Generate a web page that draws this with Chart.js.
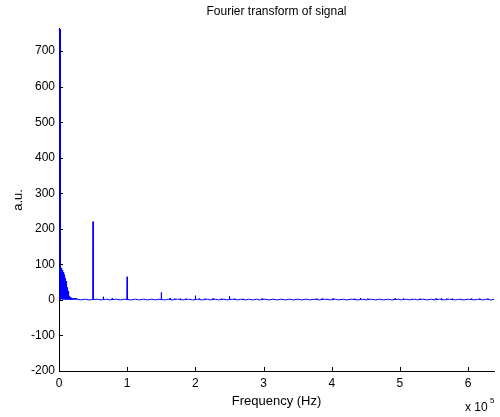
<!DOCTYPE html>
<html>
<head>
<meta charset="utf-8">
<script src="https://cdn.jsdelivr.net/npm/chart.js@4/dist/chart.umd.min.js"></script>
<style>
  html, body { margin: 0; padding: 0; background: #fff; }
  canvas { display: block; }
</style>
</head>
<body>
<canvas id="c" width="500" height="417"></canvas>
<script>
// ---- data ----
const titleText = "Fourier transform of signal";
const xLabelText = "Frequency (Hz)";
const yLabelText = "a.u.";

const xTicks = [0, 100000, 200000, 300000, 400000, 500000, 600000];
const xTickLabels = ["0", "1", "2", "3", "4", "5", "6"];
const yTicks = [-200, -100, 0, 100, 200, 300, 400, 500, 600, 700];
const xRange = [0, 638000];
const yRange = [-200, 765];

// dense low-frequency band (0 - 26 kHz), Hz and magnitude
const lowBandHz = [
  0, 1900, 2200, 2500, 2800, 3100, 3400, 3700, 4000, 4300, 4600, 4900, 5200, 5500,
  5800, 6100, 6400, 6700, 7000, 7300, 7600, 7900, 8200, 8500, 8800, 9100, 9400, 9700,
  10000, 10300, 10600, 10900, 11200, 11500, 11800, 12100, 12400, 12700, 13000, 13300,
  13600, 13900, 14200, 14500, 14800, 15200, 15500, 15900, 16300, 16700, 17100, 17600,
  18100, 18700, 19300, 20000, 20700, 21500, 22500, 23500, 24500, 25500
];
const lowBandAmp = [
  3, 141, 6, 118, 3, 90, 5, 87, 2, 86, 4, 84, 1, 81,
  3, 78, 2, 75, 1, 73, 3, 71, 2, 66, 1, 61, 2, 57,
  1, 53, 2, 47, 1, 41, 2, 35, 1, 31, 2, 25,
  1, 19, 2, 15, 1, 11, 2, 9, 1, 7, 1, 6,
  1, 5, 1, 5, 1, 5, 1, 5, 1, 4
];

// isolated spectral lines, Hz and magnitude
const peakHz = [
  1500, 50000, 65000, 78000, 100000, 150000, 163000, 170000, 178000, 186000,
  200000, 206000, 214000, 226000, 238000, 250000, 258000, 270000, 298000, 378000,
  386000, 394000, 402000, 434000, 442000, 453000, 493000, 505000, 517000, 529000,
  553000, 561000, 569000, 577000, 589000, 605000, 617000, 629000
];
const peakAmp = [
  762, 220, 9, 4, 65, 21, 5, 4, 4, 4,
  12, 4, 4, 4, 4, 10, 4, 3, 4, 4,
  4, 3, 4, 4, 5, 4, 4, 4, 3, 4,
  4, 5, 4, 4, 3, 4, 4, 4
];

// noise floor between the lines, Hz and magnitude
const floorHz = [
  26000, 32000, 38000, 44000, 56000, 62000, 70000, 74000, 84000, 90000,
  96000, 106000, 112000, 118000, 124000, 130000, 136000, 142000, 146000, 156000,
  160000, 166000, 174000, 182000, 190000, 196000, 204000, 210000, 218000, 222000,
  230000, 234000, 242000, 246000, 254000, 262000, 266000, 274000, 278000, 284000,
  290000, 294000, 302000, 308000, 314000, 320000, 326000, 332000, 338000, 344000,
  350000, 356000, 362000, 368000, 374000, 382000, 390000, 398000, 406000, 410000,
  416000, 422000, 428000, 438000, 446000, 450000, 458000, 464000, 470000, 476000,
  482000, 488000, 498000, 502000, 510000, 514000, 522000, 526000, 534000, 540000,
  546000, 550000, 558000, 565000, 573000, 582000, 586000, 594000, 600000, 610000,
  614000, 622000, 626000, 634000, 638000
];
const floorAmp = [
  2, 0, 2, 0, 2, 0, 2, 0, 2, 0,
  2, 0, 2, 0, 2, 0, 2, 0, 2, 0,
  2, 0, 2, 0, 2, 0, 2, 0, 2, 0,
  2, 0, 2, 0, 2, 0, 2, 0, 2, 0,
  2, 0, 2, 0, 2, 0, 2, 0, 2, 0,
  2, 0, 2, 0, 2, 0, 2, 0, 2, 0,
  2, 0, 2, 0, 2, 0, 2, 0, 2, 0,
  2, 0, 2, 0, 2, 0, 2, 0, 2, 0,
  2, 0, 2, 0, 2, 0, 2, 0, 2, 0,
  2, 0, 2, 0, 2
];
const lineFootAmp = 1;   // level each spectral line rises from
const lineFootHz = 300;  // half-width of a spectral line

// ---- build the trace for the library ----
const points = [];
lowBandHz.forEach((f, i) => points.push({ x: f, y: lowBandAmp[i] }));
floorHz.forEach((f, i) => points.push({ x: f, y: floorAmp[i] }));
peakHz.forEach((f, i) => {
  points.push({ x: f - lineFootHz, y: lineFootAmp });
  points.push({ x: f, y: peakAmp[i] });
  points.push({ x: f + lineFootHz, y: lineFootAmp });
});
points.sort((a, b) => a.x - b.x);

const FONT = "'Liberation Sans', Arial, sans-serif";

const matlabDecor = {
  id: 'matlabDecor',
  afterDraw(chart) {
    const ctx = chart.ctx;
    const a = chart.chartArea;
    const xs = chart.scales.x, ys = chart.scales.y;
    ctx.save();
    // inward tick marks
    ctx.strokeStyle = '#000';
    ctx.lineWidth = 1;
    ctx.beginPath();
    yTicks.forEach(v => {
      const py = Math.round(ys.getPixelForValue(v)) + 0.5;
      ctx.moveTo(a.left, py);
      ctx.lineTo(a.left + 4, py);
    });
    xTicks.forEach(v => {
      const px = Math.round(xs.getPixelForValue(v)) + 0.5;
      ctx.moveTo(px, a.bottom);
      ctx.lineTo(px, a.bottom - 4);
    });
    ctx.stroke();

    ctx.fillStyle = '#000';
    ctx.textAlign = 'center';
    ctx.textBaseline = 'middle';
    // title
    ctx.font = '12px ' + FONT;
    ctx.fillText(titleText, (a.left + a.right) / 2, 12);
    // x label
    ctx.font = '13px ' + FONT;
    ctx.fillText(xLabelText, (a.left + a.right) / 2, 401);
    // y label
    ctx.save();
    ctx.translate(18, 200);
    ctx.rotate(-Math.PI / 2);
    ctx.fillText(yLabelText, 0, 0);
    ctx.restore();
    // exponent
    ctx.textAlign = 'left';
    ctx.font = '12px ' + FONT;
    ctx.fillText('x 10', 465, 408);
    ctx.font = '8px ' + FONT;
    ctx.fillText('5', 490, 401);
    ctx.restore();
  }
};

new Chart(document.getElementById('c'), {
  type: 'line',
  data: {
    datasets: [{
      data: points,
      borderColor: '#0000ff',
      borderWidth: 1,
      pointRadius: 0,
      tension: 0,
      fill: false
    }]
  },
  options: {
    responsive: false,
    animation: false,
    events: [],
    layout: { padding: { left: 0, top: 28, right: 6, bottom: 0 } },
    plugins: { legend: { display: false }, tooltip: { enabled: false }, title: { display: false } },
    scales: {
      x: {
        type: 'linear',
        min: xRange[0],
        max: xRange[1],
        afterBuildTicks: s => { s.ticks = xTicks.map(v => ({ value: v })); },
        afterFit: s => { s.height = 46; },
        grid: { display: true, color: 'rgba(0,0,0,0)', drawTicks: false },
        border: { display: true, color: '#000', width: 1 },
        ticks: {
          color: '#000',
          font: { family: FONT, size: 12 },
          padding: 5,
          maxRotation: 0,
          autoSkip: false,
          callback: (v) => { const i = xTicks.indexOf(v); return i >= 0 ? xTickLabels[i] : ''; }
        }
      },
      y: {
        type: 'linear',
        min: yRange[0],
        max: yRange[1],
        afterBuildTicks: s => { s.ticks = yTicks.map(v => ({ value: v })); },
        afterFit: s => { s.width = 59; },
        grid: { display: true, color: 'rgba(0,0,0,0)', drawTicks: false },
        border: { display: true, color: '#000', width: 1 },
        ticks: {
          color: '#000',
          font: { family: FONT, size: 12 },
          padding: 4,
          autoSkip: false,
          callback: (v) => String(v)
        }
      }
    }
  },
  plugins: [matlabDecor]
});
</script>
</body>
</html>
